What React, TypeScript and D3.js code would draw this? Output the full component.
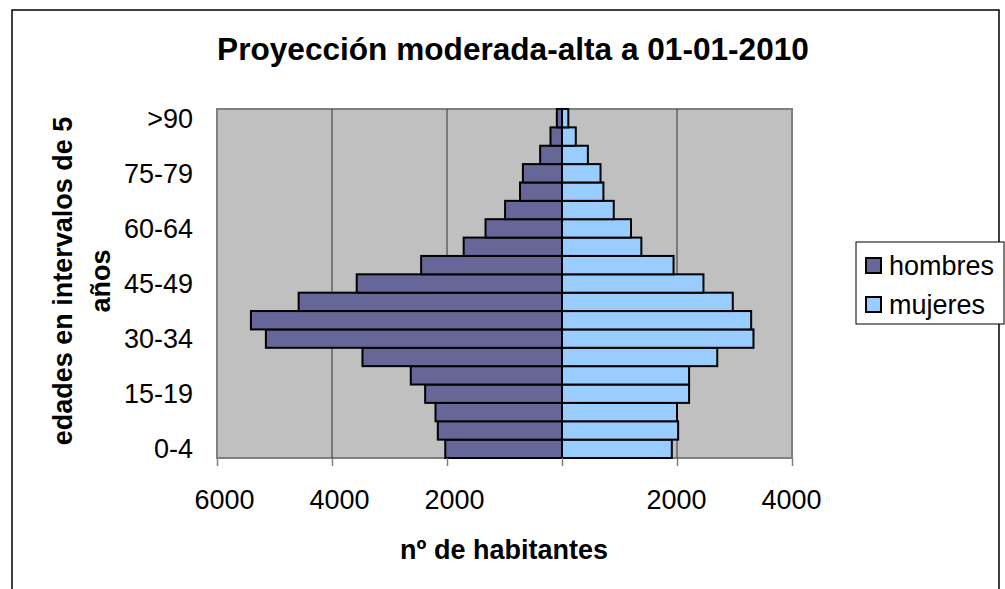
import { useEffect, useRef } from "react";
import * as d3 from "d3";

const width = 1005;
const height = 589;

// plot area
const plotLeft = 217;
const plotRight = 792;
const plotTop = 109;
const plotBottom = 458;

const font = "'Liberation Sans', Arial, sans-serif";

// age groups, bottom to top
const categories = [
  "0-4", "5-9", "10-14", "15-19", "20-24", "25-29", "30-34", "35-39", "40-44", "45-49",
  "50-54", "55-59", "60-64", "65-69", "70-74", "75-79", "80-84", "85-89", ">90",
];
const hombres = [
  2030, 2160, 2200, 2380, 2630, 3470, 5150, 5410, 4580, 3570,
  2450, 1710, 1330, 990, 730, 680, 380, 200, 90,
];
const mujeres = [
  1910, 2020, 2000, 2210, 2210, 2700, 3330, 3290, 2970, 2460,
  1940, 1380, 1200, 900, 720, 670, 450, 240, 110,
];
const shownCategories = ["0-4", "15-19", "30-34", "45-49", "60-64", "75-79", ">90"];
const xTicks = [-6000, -4000, -2000, 0, 2000, 4000];
const gridTicks = [-4000, -2000, 0, 2000];

const colorHombres = "#666699";
const colorMujeres = "#99ccff";

const App = () => {
  const xAxisRef = useRef<SVGGElement>(null);

  const xScale = d3.scaleLinear().domain([-6000, 4000]).range([plotLeft, plotRight]);
  const yScale = d3
    .scaleBand<string>()
    .domain(categories)
    .range([plotBottom, plotTop])
    .padding(0);

  useEffect(() => {
    const axis = d3
      .axisBottom(xScale)
      .tickValues(xTicks)
      .tickSize(8)
      .tickPadding(24)
      .tickFormat((d) => (+d === 0 ? "" : String(Math.abs(+d))));
    const g = d3.select(xAxisRef.current!);
    g.call(axis);
    g.select(".domain").remove();
    g.selectAll(".tick line").attr("stroke", "#808080").attr("stroke-width", 1.5);
    g.selectAll<SVGTextElement, number>(".tick text")
      .attr("font-family", font)
      .attr("font-size", 27)
      .attr("fill", "#000")
      // negative labels sit a little to the right, like in the original
      .attr("x", (d) => (d < 0 ? 7 : -1));
  }, []);

  const bh = yScale.bandwidth();
  const x0 = xScale(0);

  return (
    <div style={{ position: "absolute", left: 0, top: 0 }}>
      <svg width={width} height={height} viewBox={`0 0 ${width} ${height}`} style={{ display: "block" }}>
        <rect x={0} y={0} width={width} height={height} fill="#fff" />
        <rect x={12} y={10} width={987} height={620} fill="#fff" stroke="#000" strokeWidth={1.5} />

        <text x={513} y={60} textAnchor="middle" fontFamily={font} fontSize={31.6} fontWeight="bold">
          Proyección moderada-alta a 01-01-2010
        </text>

        {/* plot area */}
        <rect
          x={plotLeft}
          y={plotTop}
          width={plotRight - plotLeft}
          height={plotBottom - plotTop}
          fill="#c0c0c0"
          stroke="#808080"
          strokeWidth={2}
        />
        {gridTicks.map((t) => (
          <line key={t} x1={xScale(t)} x2={xScale(t)} y1={plotTop} y2={plotBottom} stroke="#333" strokeWidth={1} />
        ))}

        <g className="bars">
          {categories.map((c, i) => (
            <rect
              key={"h" + c}
              x={xScale(-hombres[i])}
              y={yScale(c)!}
              width={x0 - xScale(-hombres[i])}
              height={bh}
              fill={colorHombres}
              stroke="#000"
              strokeWidth={2}
            />
          ))}
          {categories.map((c, i) => (
            <rect
              key={"m" + c}
              x={x0}
              y={yScale(c)!}
              width={xScale(mujeres[i]) - x0}
              height={bh}
              fill={colorMujeres}
              stroke="#000"
              strokeWidth={2}
            />
          ))}
        </g>

        <g className="x-axis" ref={xAxisRef} transform={`translate(0,${plotBottom})`}></g>

        <g className="y-axis">
          {shownCategories.map((c) => (
            <text
              key={c}
              x={193}
              y={yScale(c)! + bh / 2}
              dy="0.35em"
              textAnchor="end"
              fontFamily={font}
              fontSize={27}
            >
              {c}
            </text>
          ))}
        </g>

        <g transform="translate(62,281) rotate(-90)">
          <text x={0} y={10} textAnchor="middle" fontFamily={font} fontSize={27} fontWeight="bold">
            edades en intervalos de 5
          </text>
          <text x={0} y={48} textAnchor="middle" fontFamily={font} fontSize={27} fontWeight="bold">
            años
          </text>
        </g>

        <text x={504} y={559} textAnchor="middle" fontFamily={font} fontSize={27} fontWeight="bold">
          nº de habitantes
        </text>

        {/* legend */}
        <g className="legend">
          <rect x={856} y={242} width={148} height={82} fill="#fff" stroke="#000" strokeWidth={1} />
          <rect x={866} y={258} width={15} height={15} fill={colorHombres} stroke="#000" strokeWidth={2} />
          <text x={889} y={275} fontFamily={font} fontSize={27}>
            hombres
          </text>
          <rect x={866} y={297} width={15} height={15} fill={colorMujeres} stroke="#000" strokeWidth={2} />
          <text x={889} y={314} fontFamily={font} fontSize={27}>
            mujeres
          </text>
        </g>
      </svg>
    </div>
  );
};

export default App;
